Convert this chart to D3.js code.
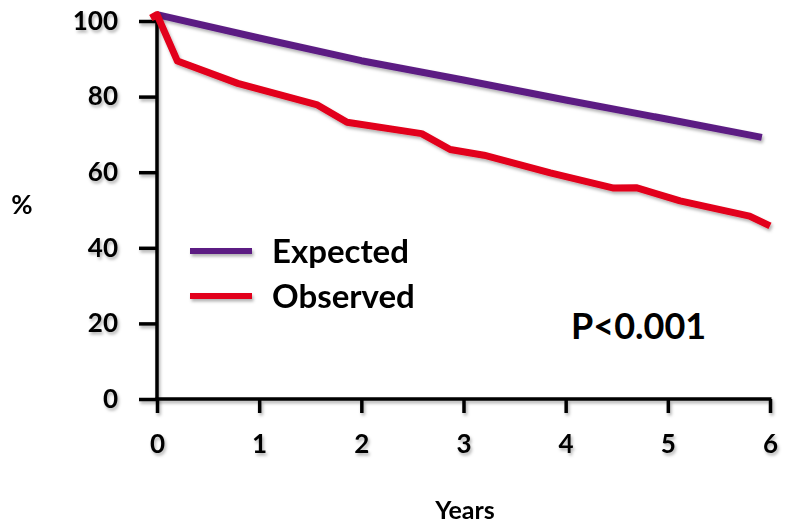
<!DOCTYPE html>
<html lang="en">
<head>
    <meta charset="UTF-8">
    <title>survival</title>
    <script src="https://cdn.jsdelivr.net/npm/d3@7"></script>
    <style>
        body { margin: 0; background: #fff; }
        text { font-family: Lato, "Open Sans", sans-serif; font-weight: bold; fill: #000; }
    </style>
</head>
<body>
<svg width="794" height="523"></svg>
<script>
    // values
    const expectedYears = [0, 1, 2, 3, 4, 5, 5.92];
    const expectedPct = [101.7, 95.5, 89.5, 84.4, 79.1, 74.0, 69.2];
    const observedYears = [-0.06, 0, 0.2, 0.79, 1.57, 1.86, 2.59, 2.87, 3.2, 3.85, 4.47, 4.69, 5.12, 5.8, 6.0];
    const observedPct = [100.8, 101.7, 89.4, 83.5, 77.8, 73.2, 70.2, 66.0, 64.5, 59.8, 55.8, 55.9, 52.4, 48.4, 45.8];
    const xTicks = [0, 1, 2, 3, 4, 5, 6];
    const yTicks = [0, 20, 40, 60, 80, 100];
    const seriesNames = ['Expected', 'Observed'];
    const seriesColors = ['#5c1f83', '#e2001a'];

    const svg = d3.select('svg');
    const defs = svg.append('defs');
    // region in user space, big enough for translated groups too
    defs.append('filter').attr('id', 'shadow')
        .attr('filterUnits', 'userSpaceOnUse')
        .attr('x', -800).attr('y', -600).attr('width', 2400).attr('height', 1800)
        .append('feDropShadow')
        .attr('dx', 1.5).attr('dy', 2.5).attr('stdDeviation', 1.5)
        .attr('flood-color', '#000').attr('flood-opacity', 0.3);

    const x = d3.scaleLinear().domain([0, 6]).range([157, 770]);
    const y = d3.scaleLinear().domain([0, 100]).range([399, 21]);

    // axes
    const gy = svg.append('g').attr('transform', `translate(${x(0)},0)`)
        .call(d3.axisLeft(y).tickValues(yTicks).tickSize(18).tickSizeOuter(0).tickPadding(20));
    const gx = svg.append('g').attr('transform', `translate(0,${y(0)})`)
        .call(d3.axisBottom(x).tickValues(xTicks).tickFormat(d3.format('d')).tickSize(14).tickSizeOuter(0).tickPadding(22));
    [gx, gy].forEach(g => {
        g.attr('filter', 'url(#shadow)');
        g.select('.domain').attr('stroke', '#000').attr('stroke-width', 3.5);
        g.selectAll('.tick line').attr('stroke', '#000').attr('stroke-width', 3.5);
        g.selectAll('.tick text').attr('font-size', 26).attr('font-family', null).attr('fill', '#000');
    });
    gy.select('.domain').attr('d', `M0,${y(0) + 1.5}V${y(100) - 3}`);
    gx.select('.domain').attr('d', `M${x(0) - 1.5},0H${x(6) + 1.5}`);
    gy.selectAll('.tick text').attr('x', -39);

    svg.append('text').text('%').attr('x', 22).attr('y', 214)
        .attr('text-anchor', 'middle').attr('font-size', 26);
    svg.append('text').text('Years').attr('x', 465).attr('y', 519)
        .attr('text-anchor', 'middle').attr('font-size', 25);

    // lines
    const line = d3.line().x(d => x(d[0])).y(d => y(d[1]));
    const series = [
        d3.zip(expectedYears, expectedPct),
        d3.zip(observedYears, observedPct)
    ];
    svg.selectAll('path.series').data(series).join('path')
        .attr('class', 'series')
        .attr('d', line)
        .attr('fill', 'none')
        .attr('stroke', (d, i) => seriesColors[i])
        .attr('stroke-width', 7)
        .attr('stroke-linejoin', 'round')
        .attr('filter', 'url(#shadow)');

    // legend
    const legend = svg.selectAll('g.legend').data(seriesNames).join('g')
        .attr('class', 'legend')
        .attr('transform', (d, i) => `translate(190,${251 + i * 45})`);
    legend.append('line')
        .attr('x1', 0).attr('x2', 62).attr('y1', 0).attr('y2', 0)
        .attr('stroke', (d, i) => seriesColors[i])
        .attr('stroke-width', 6)
        .attr('filter', 'url(#shadow)');
    legend.append('text').text(d => d)
        .attr('x', 82).attr('y', 12)
        .attr('font-size', 33);

    svg.append('text').text('P<0.001').attr('x', 571).attr('y', 339)
        .attr('font-size', 36);
</script>
</body>
</html>
